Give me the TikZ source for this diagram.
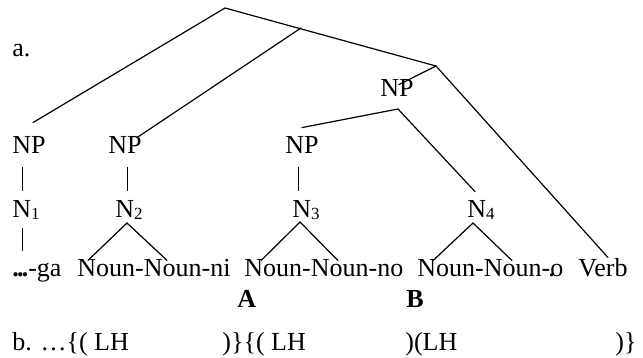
\documentclass[tikz,border=0pt]{standalone}
\usepackage{fontspec}
\setmainfont{Liberation Serif}
\usetikzlibrary{calc}
\newcommand{\nsub}[1]{\raisebox{-0.8pt}{\fontsize{8.5}{9}\selectfont #1}}
\begin{document}
\begin{tikzpicture}[%
x=0.5pt, y=-0.5pt,
lbl/.style={anchor=base west, inner sep=0pt, font=\fontsize{13}{15}\selectfont},
branch/.style={line width=0.6pt, line cap=round},
stem/.style={line width=0.45pt},
]
\useasboundingbox (0,0) rectangle (643,358);
%% labels;
\node[lbl] (a) at (12,57) {a.};
\node[lbl] (np1) at (12,154) {NP};
\node[lbl] (np2) at (108,154) {NP};
\node[lbl] (np3) at (285,154) {NP};
\node[lbl] (np4) at (380,97) {NP};
\node[lbl] (n1) at (12,218) {N\nsub{1}};
\node[lbl] (n2) at (115,218) {N\nsub{2}};
\node[lbl] (n3) at (292,218) {N\nsub{3}};
\node[lbl] (n4) at (467,218) {N\nsub{4}};
\node[lbl] (ga) at (12,277) {{\bfseries.\kern-0.9pt.\kern-0.9pt.}-ga};
\node[lbl] (w2) at (77,277) {Noun-Noun-ni};
\node[lbl] (w3) at (244,277) {Noun-Noun-no};
\node[lbl] (w4) at (417,277) {Noun-Noun-\kern-1pt.\kern-2.2pt o};
\node[lbl] (verb) at (578,277) {Verb};
\node[lbl] (A) at (237,307) {\bfseries A};
\node[lbl] (B) at (406,307) {\bfseries B};
%% tones;
\node[lbl] (b1) at (12,350) {b. …\{( LH};
\node[lbl] (b2) at (222,350) {)\}\{( LH};
\node[lbl] (b3) at (405,350) {)(LH};
\node[lbl] (b4) at (615,350) {)\}};
%% junctions;
\coordinate (top) at (225,8);
\coordinate (mid) at (301,28);
\coordinate (rt) at (436,66);
\coordinate (low) at (398,109);
%% branches;
\draw[branch] ($(np1.north west)+(21,-14)$) -- (top) -- (rt);
\draw[branch] (mid) -- ($(np2.north west)+(29,1)$);
\draw[branch] (rt) -- ($(np4.north west)+(19,5)$);
\draw[branch] ($(np3.north west)+(17,-9)$) -- (low) -- ($(n4.north west)+(8,-9)$);
\draw[branch] (rt) -- ($(verb.north west)+(30,-1)$);
%% stems;
\draw[stem] ($(np1.base west)+(10,13)$) -- ($(n1.north west)+(10,-10)$);
\draw[stem] ($(np2.base west)+(19,13)$) -- ($(n2.north west)+(12,-10)$);
\draw[stem] ($(np3.base west)+(13,13)$) -- ($(n3.north west)+(6,-10)$);
\draw[stem] ($(n1.base west)+(10,10)$) -- ($(ga.base west)+(10,-26)$);
%% triangles;
\draw[branch] ($(w2.north west)+(11,1)$) -- ($(n2.base west)+(12,5)$) -- ($(w2.north west)+(90,1)$);
\draw[branch] ($(w3.north west)+(17,1)$) -- ($(n3.base west)+(8,4)$) -- ($(w3.north west)+(94,1)$);
\draw[branch] ($(w4.north west)+(16,1)$) -- ($(n4.base west)+(6,5)$) -- ($(w4.north west)+(95,1)$);
\end{tikzpicture}
\end{document}
